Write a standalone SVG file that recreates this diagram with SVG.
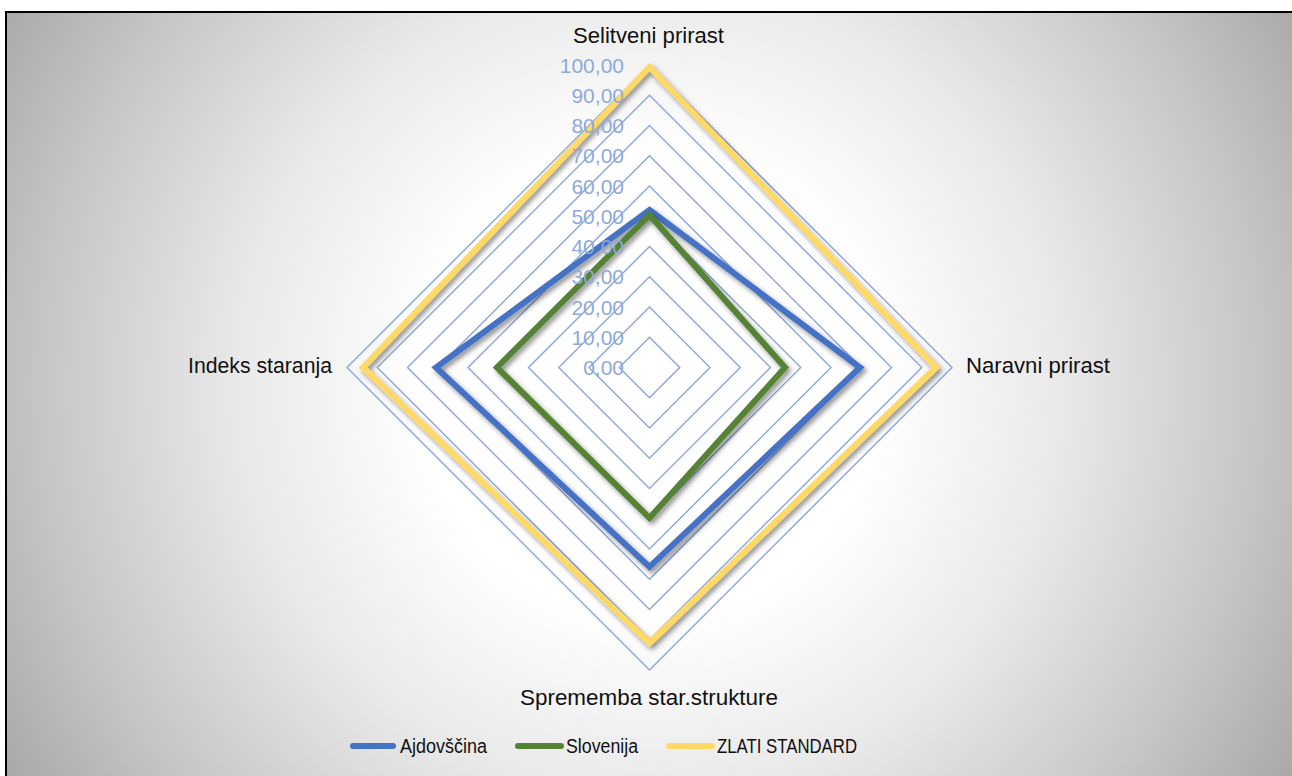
<svg xmlns="http://www.w3.org/2000/svg" width="1292" height="776" viewBox="0 0 1292 776">
<defs>
<radialGradient id="bg" gradientUnits="userSpaceOnUse" cx="650" cy="385" r="760">
<stop offset="0" stop-color="#ffffff"/>
<stop offset="0.3" stop-color="#ffffff"/>
<stop offset="0.55" stop-color="#e8e8e8"/>
<stop offset="0.8" stop-color="#c6c6c6"/>
<stop offset="1" stop-color="#a7a7a7"/>
</radialGradient>
<filter id="sh" x="-20%" y="-20%" width="140%" height="140%">
<feDropShadow dx="2.5" dy="3" stdDeviation="2.5" flood-color="#000" flood-opacity="0.45"/>
</filter>
<style>
.grid{fill:none;stroke:#8EA9DB;stroke-width:1.5}
.ser{fill:none;stroke-width:6;stroke-linejoin:miter;filter:url(#sh)}
.cat{font-family:"Liberation Sans",Arial,sans-serif;font-size:21.5px;fill:#111}
.ax{font-family:"Liberation Sans",Arial,sans-serif;font-size:21px;fill:#8EA9DB;text-anchor:end}
.leg{font-family:"Liberation Sans",Arial,sans-serif;font-size:20px;fill:#111}
.legline{stroke-width:6;stroke-linecap:round}
</style>
</defs>
<rect x="0" y="0" width="1292" height="776" fill="#ffffff"/>
<rect x="6" y="12" width="1300" height="800" fill="url(#bg)" stroke="#000" stroke-width="2"/>

<g id="grid">
<polygon class="grid" points="649.5,337.25 679.75,367.5 649.5,397.75 619.25,367.5"/>
<polygon class="grid" points="649.5,307 710,367.5 649.5,428 589,367.5"/>
<polygon class="grid" points="649.5,276.75 740.25,367.5 649.5,458.25 558.75,367.5"/>
<polygon class="grid" points="649.5,246.5 770.5,367.5 649.5,488.5 528.5,367.5"/>
<polygon class="grid" points="649.5,216.25 800.75,367.5 649.5,518.75 498.25,367.5"/>
<polygon class="grid" points="649.5,186 831,367.5 649.5,549 468,367.5"/>
<polygon class="grid" points="649.5,155.75 861.25,367.5 649.5,579.25 437.75,367.5"/>
<polygon class="grid" points="649.5,125.5 891.5,367.5 649.5,609.5 407.5,367.5"/>
<polygon class="grid" points="649.5,95.25 921.75,367.5 649.5,639.75 377.25,367.5"/>
<polygon class="grid" points="649.5,65 952,367.5 649.5,670 347,367.5"/>
</g>

<g id="connectors">
<polygon id="s-ajdovscina" class="ser" stroke="#4472C4" points="649.5,210 860,367.5 649.5,567 436,367.5"/>
<polygon id="s-slovenija" class="ser" stroke="#548235" points="649.5,215 785,367.5 649.5,518 497,367.5"/>
<polygon id="s-zlati" class="ser" stroke="#FFD966" points="649.5,67 936,367.5 649.5,643 363,367.5"/>
</g>

<g id="axis-labels">
<text class="ax" x="624" y="72.5">100,00</text>
<text class="ax" x="624" y="102.75">90,00</text>
<text class="ax" x="624" y="133">80,00</text>
<text class="ax" x="624" y="163.25">70,00</text>
<text class="ax" x="624" y="193.5">60,00</text>
<text class="ax" x="624" y="223.75">50,00</text>
<text class="ax" x="624" y="254">40,00</text>
<text class="ax" x="624" y="284.25">30,00</text>
<text class="ax" x="624" y="314.5">20,00</text>
<text class="ax" x="624" y="344.75">10,00</text>
<text class="ax" x="624" y="375">0,00</text>
</g>

<g id="cat-selitveni"><text class="cat" x="573" y="43" textLength="151" lengthAdjust="spacingAndGlyphs">Selitveni prirast</text></g>
<g id="cat-naravni"><text class="cat" x="966" y="373" textLength="144" lengthAdjust="spacingAndGlyphs">Naravni prirast</text></g>
<g id="cat-sprememba"><text class="cat" x="520" y="705" textLength="258" lengthAdjust="spacingAndGlyphs">Sprememba star.strukture</text></g>
<g id="cat-indeks"><text class="cat" x="188" y="373" textLength="144" lengthAdjust="spacingAndGlyphs">Indeks staranja</text></g>

<g id="legend">
<g id="leg-ajdovscina">
<line class="legline" x1="353" y1="746" x2="393" y2="746" stroke="#4472C4"/>
<text class="leg" x="400" y="752.5" textLength="87" lengthAdjust="spacingAndGlyphs">Ajdovščina</text>
</g>
<g id="leg-slovenija">
<line class="legline" x1="518" y1="746" x2="561" y2="746" stroke="#548235"/>
<text class="leg" x="566" y="752.5" textLength="72" lengthAdjust="spacingAndGlyphs">Slovenija</text>
</g>
<g id="leg-zlati">
<line class="legline" x1="669" y1="746" x2="712" y2="746" stroke="#FFD966"/>
<text class="leg" x="717" y="752.5" textLength="140" lengthAdjust="spacingAndGlyphs">ZLATI STANDARD</text>
</g>
</g>
</svg>
